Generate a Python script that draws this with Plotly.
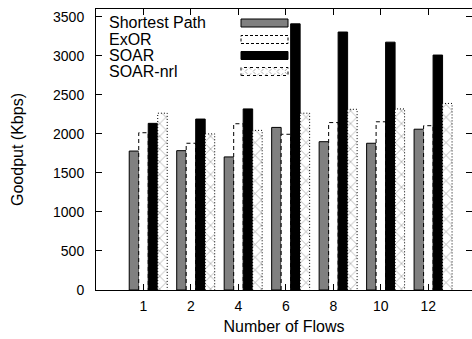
import numpy as np
import plotly.graph_objects as go

# Goodput (Kbps) per number of concurrent flows
flows = ["1", "2", "4", "6", "8", "10", "12"]
shortest_path = [1780, 1785, 1705, 2083, 1900, 1880, 2060]
exor = [2015, 1880, 2130, 1995, 2145, 2155, 2105]
soar = [2135, 2190, 2320, 3410, 3305, 3175, 3010]
soar_nrl = [2265, 2000, 2045, 2265, 2315, 2320, 2390]
y_ticks = [0, 500, 1000, 1500, 2000, 2500, 3000, 3500]

series_names = ["Shortest Path", "ExOR", "SOAR", "SOAR-nrl"]

W, H = 472, 339
ML, MR, MT, MB = 96, 0, 9, 49
PW, PH = W - ML - MR, H - MT - MB

FONT = "Liberation Sans, Arial, Helvetica, sans-serif"
BAR_W = 0.2
offsets = [-0.3, -0.1, 0.1, 0.3]
xi = np.arange(len(flows))


def outline(values, off):
    """Open rectangle outline (left, top, right edges) for each bar."""
    xs, ys = [], []
    for x, v in zip(xi, values):
        x0, x1 = x + off, x + off + BAR_W
        xs += [x0, x0, x1, x1, None]
        ys += [0, v, v, 0, None]
    return xs, ys


fig = go.Figure()

# Shortest Path: gray bars with a thin black border
fig.add_trace(go.Bar(
    x=xi, y=shortest_path, offset=offsets[0], width=BAR_W, name=series_names[0],
    marker=dict(color="#808080", line=dict(color="black", width=1)),
    showlegend=False,
))
# ExOR: empty bars, dashed outline
fig.add_trace(go.Bar(
    x=xi, y=exor, offset=offsets[1], width=BAR_W, name=series_names[1],
    marker=dict(color="white", line=dict(width=0)), showlegend=False,
))
ex_x, ex_y = outline(exor, offsets[1])
fig.add_trace(go.Scatter(
    x=ex_x, y=ex_y, mode="lines", line=dict(color="black", width=1, dash="4px,3px"),
    showlegend=False, hoverinfo="skip",
))
# SOAR: solid black bars
fig.add_trace(go.Bar(
    x=xi, y=soar, offset=offsets[2], width=BAR_W, name=series_names[2],
    marker=dict(color="black", line=dict(color="black", width=1)), showlegend=False,
))
# SOAR-nrl: cross-hatched bars, dotted outline
fig.add_trace(go.Bar(
    x=xi, y=soar_nrl, offset=offsets[3], width=BAR_W, name=series_names[3],
    marker=dict(
        color="#9a9a9a", line=dict(width=0),
        pattern=dict(shape="x", fgcolor="#9a9a9a", bgcolor="white",
                     fillmode="replace", size=9, solidity=0.14),
    ),
    showlegend=False,
))
nr_x, nr_y = outline(soar_nrl, offsets[3])
fig.add_trace(go.Scatter(
    x=nr_x, y=nr_y, mode="lines", line=dict(color="black", width=1, dash="1px,2px"),
    showlegend=False, hoverinfo="skip",
))


def px_x(p):
    return (p - ML) / PW


def px_y(p):
    return (H - MB - p) / PH


# Key in the upper-left corner: label on the left, swatch on the right
shapes, annotations = [], []
rows = [23, 39.5, 55.5, 71.5]
sx0, sx1 = px_x(241), px_x(288)
for name, ry in zip(series_names, rows):
    annotations.append(dict(
        text=name, x=px_x(107), y=px_y(ry), xref="paper", yref="paper",
        xanchor="left", yanchor="middle", showarrow=False,
        font=dict(family=FONT, size=16, color="black"),
    ))
    y0, y1 = px_y(ry + 4), px_y(ry - 4)
    if name == "Shortest Path":
        shapes.append(dict(type="rect", xref="paper", yref="paper", x0=sx0, x1=sx1, y0=y0, y1=y1,
                           fillcolor="#808080", line=dict(color="black", width=1)))
    elif name == "ExOR":
        shapes.append(dict(type="rect", xref="paper", yref="paper", x0=sx0, x1=sx1, y0=y0, y1=y1,
                           fillcolor="white", line=dict(color="black", width=1, dash="3px,2px")))
    elif name == "SOAR":
        shapes.append(dict(type="rect", xref="paper", yref="paper", x0=sx0, x1=sx1, y0=y0, y1=y1,
                           fillcolor="black", line=dict(color="black", width=1)))
    else:
        shapes.append(dict(type="rect", xref="paper", yref="paper", x0=sx0, x1=sx1, y0=y0, y1=y1,
                           fillcolor="white", line=dict(color="black", width=1, dash="dot")))
        # crosses inside the swatch
        path = ""
        step = 8
        for k in range(6):
            a0 = px_x(241 + k * step)
            a1 = px_x(min(241 + (k + 1) * step, 288))
            path += f"M{a0},{y0} L{a1},{y1} M{a0},{y1} L{a1},{y0} "
        shapes.append(dict(type="path", xref="paper", yref="paper", path=path,
                           line=dict(color="#999999", width=0.8, dash="dot")))

fig.update_layout(
    width=W, height=H,
    margin=dict(l=ML, r=MR, t=MT, b=MB, pad=0),
    paper_bgcolor="white", plot_bgcolor="white",
    barmode="overlay",
    showlegend=False,
    font=dict(family=FONT, size=14, color="black"),
    shapes=shapes, annotations=annotations,
)

fig.update_xaxes(
    range=[-1, 6.92], tickmode="array", tickvals=xi, ticktext=flows,
    ticks="inside", ticklen=6, tickcolor="black", tickwidth=1,
    showline=True, linecolor="black", linewidth=1, mirror="ticks",
    showgrid=False, zeroline=False, ticklabelstandoff=3,
    tickfont=dict(family=FONT, size=14),
    title=dict(text="Number of Flows", font=dict(family=FONT, size=16), standoff=8),
)
fig.update_yaxes(
    range=[0, 3600], tickmode="array", tickvals=y_ticks,
    ticks="inside", ticklen=6, tickcolor="black", tickwidth=1,
    showline=True, linecolor="black", linewidth=1, mirror="ticks",
    showgrid=False, zeroline=False, ticklabelstandoff=8,
    tickfont=dict(family=FONT, size=14),
    title=dict(text="Goodput (Kbps)", font=dict(family=FONT, size=16), standoff=25),
)

fig.write_html("out.html")
